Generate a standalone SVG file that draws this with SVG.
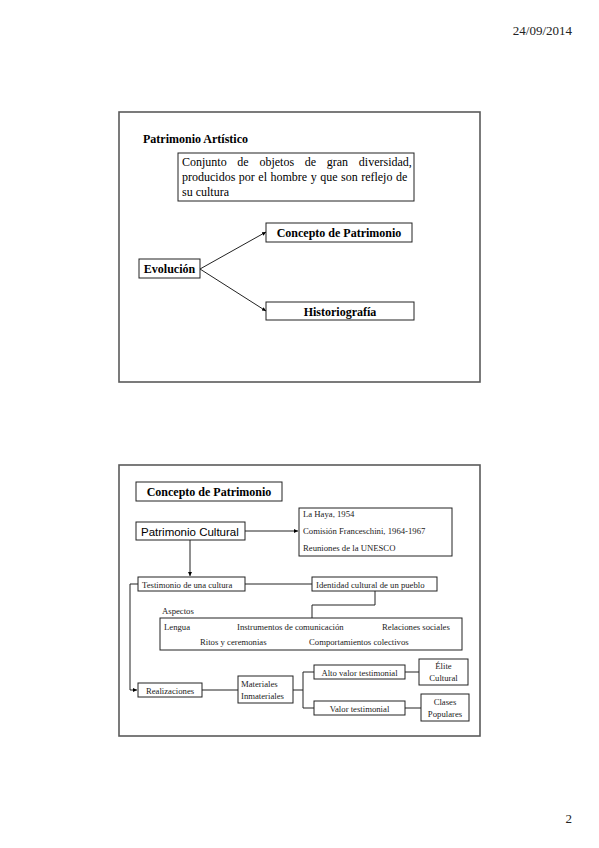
<svg xmlns="http://www.w3.org/2000/svg" width="599" height="848" viewBox="0 0 599 848">
<defs>
<marker id="ah" viewBox="0 0 6 6" refX="6" refY="3" markerWidth="4" markerHeight="4" orient="auto" markerUnits="userSpaceOnUse">
<path d="M0,0 L6,3 L0,6 z" fill="#000"/>
</marker>
<style>
.frame{fill:#fff;stroke:#5a5a5a;stroke-width:1.6}
.box{fill:#fff;stroke:#222;stroke-width:1}
.con{fill:none;stroke:#222;stroke-width:1}
.b{font-family:"Liberation Serif",serif;font-weight:bold;font-size:12px;fill:#000}
.r{font-family:"Liberation Serif",serif;font-size:12px;fill:#000}
.s{font-family:"Liberation Serif",serif;font-size:8.7px;fill:#222}
.sans{font-family:"Liberation Sans",sans-serif;font-size:11.5px;fill:#000}
.pg{font-family:"Liberation Serif",serif;font-size:13px;fill:#222}
.c{text-anchor:middle}
</style>
</defs>
<rect width="599" height="848" fill="#fff"/>
<text class="pg" x="572" y="35" text-anchor="end">24/09/2014</text>
<text class="pg" x="572" y="823" text-anchor="end">2</text>

<!-- Slide 1 -->
<g id="slide1">
<rect class="frame" x="119" y="112" width="361" height="270"/>
<text class="b" x="143" y="143">Patrimonio Artístico</text>
</g>
<g id="definicion">
<rect class="box" x="178" y="153" width="236" height="48"/>
<text class="r" x="182" y="166" word-spacing="7.7">Conjunto de objetos de gran diversidad,</text>
<text class="r" x="182" y="181" word-spacing="0.5">producidos por el hombre y que son reflejo de</text>
<text class="r" x="182" y="196">su cultura</text>
</g>
<g id="evolucion">
<rect class="box" x="139" y="259" width="61" height="19"/>
<text class="b c" x="169.5" y="273">Evolución</text>
</g>
<g id="concepto1">
<rect class="box" x="266" y="223" width="146" height="19"/>
<text class="b c" x="339" y="237">Concepto de Patrimonio</text>
</g>
<g id="historiografia">
<rect class="box" x="266" y="302" width="148" height="18"/>
<text class="b c" x="340" y="315.5">Historiografía</text>
</g>
<g id="connectors1">
<line class="con" x1="200" y1="269" x2="266" y2="232" marker-end="url(#ah)"/>
<line class="con" x1="200" y1="269" x2="266" y2="311" marker-end="url(#ah)"/>
</g>

<!-- Slide 2 -->
<g id="slide2">
<rect class="frame" x="119" y="465" width="361" height="271"/>
</g>
<g id="concepto2">
<rect class="box" x="136" y="482" width="146" height="19"/>
<text class="b c" x="209" y="496">Concepto de Patrimonio</text>
</g>
<g id="patrimonioCultural">
<rect class="box" x="136" y="522" width="109" height="18"/>
<text class="sans" x="141" y="535.5">Patrimonio Cultural</text>
</g>
<g id="lista">
<rect class="box" x="299" y="508" width="153" height="48"/>
<text class="s" x="303" y="517">La Haya, 1954</text>
<text class="s" x="303" y="534">Comisión Franceschini, 1964-1967</text>
<text class="s" x="303" y="551">Reuniones de la UNESCO</text>
</g>
<g id="testimonio">
<rect class="box" x="138" y="577" width="107" height="14"/>
<text class="s" x="142" y="587.5">Testimonio de una cultura</text>
</g>
<g id="identidad">
<rect class="box" x="312" y="577" width="125" height="14"/>
<text class="s" x="316" y="587.5">Identidad cultural de un pueblo</text>
</g>
<g id="aspectos">
<text class="s" x="162" y="614">Aspectos</text>
<rect class="box" x="160" y="618" width="302" height="32"/>
<text class="s" x="164" y="630">Lengua</text>
<text class="s" x="237" y="630">Instrumentos de comunicación</text>
<text class="s" x="382" y="630">Relaciones sociales</text>
<text class="s" x="200" y="645">Ritos y ceremonias</text>
<text class="s" x="309" y="645">Comportamientos colectivos</text>
</g>
<g id="realizaciones">
<rect class="box" x="138" y="683" width="64" height="14"/>
<text class="s c" x="170" y="693.5">Realizaciones</text>
</g>
<g id="materiales">
<rect class="box" x="238" y="676" width="55" height="27"/>
<text class="s" x="241" y="687">Materiales</text>
<text class="s" x="241" y="699">Inmateriales</text>
</g>
<g id="alto">
<rect class="box" x="314" y="665" width="91" height="14"/>
<text class="s c" x="359.5" y="675.5">Alto valor testimonial</text>
</g>
<g id="elite">
<rect class="box" x="419" y="659" width="49" height="26"/>
<text class="s c" x="443.5" y="669">Élite</text>
<text class="s c" x="443.5" y="681">Cultural</text>
</g>
<g id="valor">
<rect class="box" x="314" y="701" width="91" height="14"/>
<text class="s c" x="359.5" y="711.5">Valor testimonial</text>
</g>
<g id="clases">
<rect class="box" x="421" y="694" width="48" height="27"/>
<text class="s c" x="445" y="705">Clases</text>
<text class="s c" x="445" y="717">Populares</text>
</g>
<g id="connectors2">
<line class="con" x1="245" y1="531" x2="298" y2="531" marker-end="url(#ah)"/>
<line class="con" x1="190" y1="540" x2="190" y2="576" marker-end="url(#ah)"/>
<line class="con" x1="245" y1="584" x2="312" y2="584"/>
<polyline class="con" points="375,591 375,605 312,605 312,618"/>
<polyline class="con" points="138,584 130,584 130,690 137,690" marker-end="url(#ah)"/>
<line class="con" x1="202" y1="690" x2="238" y2="690"/>
<line class="con" x1="293" y1="690" x2="303" y2="690"/>
<polyline class="con" points="314,672 303,672 303,708 314,708"/>
<line class="con" x1="405" y1="672" x2="419" y2="672"/>
<line class="con" x1="405" y1="708" x2="421" y2="708"/>
</g>
</svg>
